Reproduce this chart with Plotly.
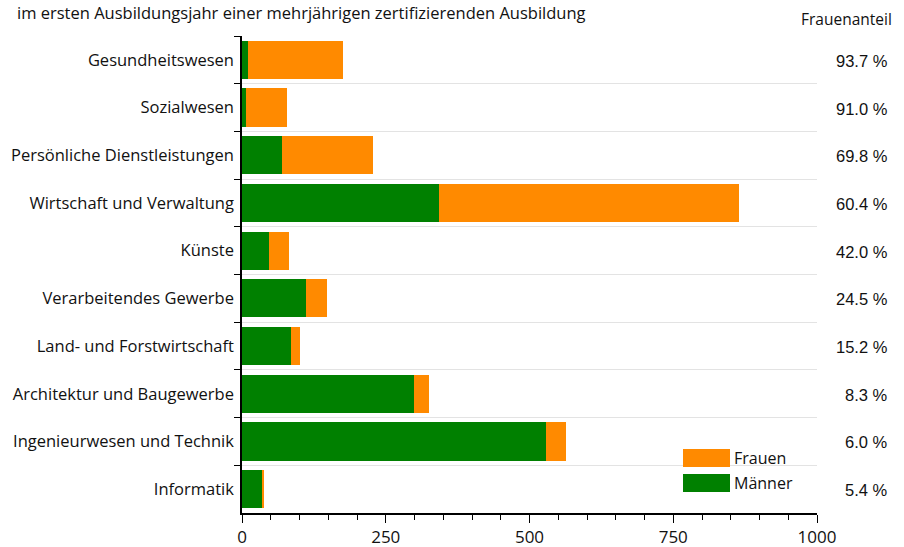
import plotly.graph_objects as go

categories = ["Gesundheitswesen", "Sozialwesen", "Persönliche Dienstleistungen",
              "Wirtschaft und Verwaltung", "Künste", "Verarbeitendes Gewerbe",
              "Land- und Forstwirtschaft", "Architektur und Baugewerbe",
              "Ingenieurwesen und Technik", "Informatik"]
maenner = [11, 7, 69, 342, 47, 112, 85, 299, 529, 36]
frauen = [165, 72, 158, 522, 34, 36, 15, 27, 34, 2]
frauenanteil = ["93.7 %", "91.0 %", "69.8 %", "60.4 %", "42.0 %", "24.5 %",
                "15.2 %", "8.3 %", "6.0 %", "5.4 %"]
x_ticks = [0, 250, 500, 750, 1000]

GREEN = "#008000"
ORANGE = "#FF8A00"
FONT = "Open Sans"
FONT2 = "Liberation Sans, Arial"

fig = go.Figure()
fig.add_trace(go.Bar(y=categories, x=maenner, orientation="h", name="Männer",
                     marker=dict(color=GREEN, line=dict(width=0)), width=0.8))
fig.add_trace(go.Bar(y=categories, x=frauen, orientation="h", name="Frauen",
                     marker=dict(color=ORANGE, line=dict(width=0)), width=0.8))

W, H = 904, 547
L, R, T, B = 242, 87, 36, 34
ph = H - T - B
pw = W - L - R

def py(pix):
    return 1 - (pix - T) / ph

def px(pix):
    return (pix - L) / pw

annotations = []
for c, p in zip(categories, frauenanteil):
    annotations.append(dict(x=px(890), y=c, xref="paper", yref="y", text=p,
                            showarrow=False, xanchor="right", yanchor="middle", yshift=-1,
                            font=dict(size=16.5, color="#111", family=FONT2)))
annotations.append(dict(x=px(15), y=py(12), xref="paper", yref="paper",
                        text="im ersten Ausbildungsjahr einer mehrjährigen zertifizierenden Ausbildung",
                        showarrow=False, xanchor="left", yanchor="middle",
                        font=dict(size=16.5, color="#111", family=FONT)))
annotations.append(dict(x=px(894), y=py(19), xref="paper", yref="paper",
                        text="Frauenanteil", showarrow=False, xanchor="right", yanchor="middle",
                        font=dict(size=15.5, color="#111", family=FONT)))
# legend
shapes = []
for name, col, ytop in [("Frauen", ORANGE, 449), ("Männer", GREEN, 474)]:
    shapes.append(dict(type="rect", xref="paper", yref="paper",
                       x0=px(683), x1=px(730), y0=py(ytop), y1=py(ytop + 18),
                       fillcolor=col, line=dict(width=0)))
    annotations.append(dict(x=px(732), y=py(ytop + 9), xref="paper", yref="paper",
                            text=name, showarrow=False, xanchor="left", yanchor="middle",
                            font=dict(size=16, color="#111", family=FONT)))

fig.update_layout(
    barmode="stack", width=W, height=H,
    margin=dict(l=L, r=R, t=T, b=B, pad=0, autoexpand=False),
    paper_bgcolor="white", plot_bgcolor="white",
    showlegend=False, bargap=0.2,
    font=dict(family=FONT, color="#111"),
    annotations=annotations, shapes=shapes,
    xaxis=dict(range=[0, 1000], tickvals=x_ticks, ticks="outside", ticklen=8,
               tickcolor="black", showline=True, linecolor="black", linewidth=1.5,
               showgrid=False, zeroline=False, tickfont=dict(size=17, family=FONT),
               automargin=False,
               minor=dict(dtick=50, ticks="outside", ticklen=5, tickcolor="black", showgrid=False)),
    yaxis=dict(categoryorder="array", categoryarray=categories, autorange="reversed",
               tickson="boundaries", ticks="outside", ticklen=6, tickcolor="black",
               showline=True, linecolor="black", linewidth=1.5, automargin=False,
               showgrid=True, gridcolor="#E3E3E3", gridwidth=1,
               tickfont=dict(size=16.5, family=FONT), ticklabelstandoff=3),
)

fig.write_html("out.html", config={"displayModeBar": False},
               post_script="document.body.style.margin='0';")
